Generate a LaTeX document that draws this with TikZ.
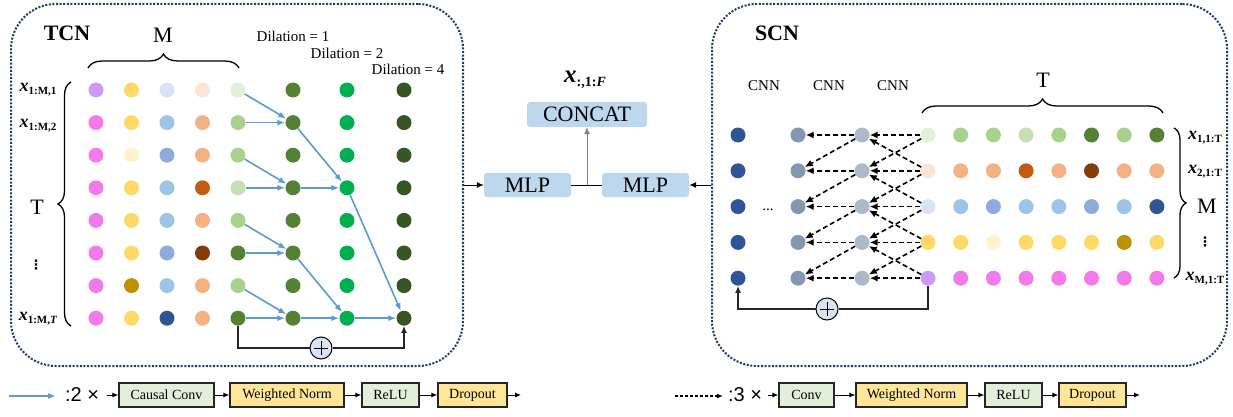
\documentclass[tikz,border=0pt]{standalone}
\usepackage{fontspec}
\setmainfont{Liberation Serif}
\newfontfamily\lsans{Liberation Sans}
\newfontfamily\djv{DejaVu Sans}
\usetikzlibrary{arrows.meta,decorations.pathreplacing}
\definecolor{cPur}{HTML}{CC99FF}
\definecolor{cPink}{HTML}{F27AEA}
\definecolor{cYel}{HTML}{FFD966}
\definecolor{cYelL}{HTML}{FFF2CC}
\definecolor{cYelD}{HTML}{BF9000}
\definecolor{cBluL}{HTML}{DAE3F3}
\definecolor{cBlu}{HTML}{9DC3E6}
\definecolor{cBluM}{HTML}{8FAADC}
\definecolor{cBluD}{HTML}{2F5597}
\definecolor{cOrL}{HTML}{FBE5D6}
\definecolor{cOr}{HTML}{F4B183}
\definecolor{cOrD}{HTML}{C55A11}
\definecolor{cBrn}{HTML}{843C0C}
\definecolor{cGrL}{HTML}{E2F0D9}
\definecolor{cGrLL}{HTML}{C5E0B4}
\definecolor{cGr}{HTML}{A9D18E}
\definecolor{cGrD}{HTML}{548235}
\definecolor{cGrB}{HTML}{00B050}
\definecolor{cGrDD}{HTML}{375623}
\definecolor{cS1}{HTML}{8497B0}
\definecolor{cS2}{HTML}{ADB9CA}
\definecolor{cMLP}{HTML}{BDD7EE}
\definecolor{cArrow}{HTML}{5B9BD5}
\definecolor{cBorder}{HTML}{203864}
\definecolor{cBoxY}{HTML}{FFE699}
\newcommand{\fsz}[1]{\fontsize{#1}{#1}\selectfont}
\newcommand{\xlab}[1]{{\fsz{18}\textbf{\textit{x}}}{\fsz{11}\raisebox{-3pt}{\textbf{#1}}}}
\begin{document}
\begin{tikzpicture}[x=1pt,y=-1pt,
  dot/.style={circle,inner sep=0,minimum size=15,draw=none},
  panel/.style={draw=cBorder,line width=2,dash pattern=on 2pt off 1.6pt,rounded corners=45,inner sep=0},
  blu/.style={draw=cArrow,color=cArrow,line width=1.6,-{Latex[length=8,width=6]}},
  dsh/.style={draw=black,line width=1.6,dash pattern=on 5pt off 3pt,-{Latex[length=8,width=7]}},
  res/.style={draw=black!85,line width=1.5},
  plus/.style={circle,draw=black,line width=1,fill=cBluL,minimum size=22,inner sep=0,
    path picture={\draw[line width=1] ([xshift=-7pt]path picture bounding box.center) -- ([xshift=7pt]path picture bounding box.center);
                  \draw[line width=1] ([yshift=-7pt]path picture bounding box.center) -- ([yshift=7pt]path picture bounding box.center);}},
  brc/.style={decorate,decoration={brace,amplitude=14pt},line width=1.3},
  mlp/.style={fill=cMLP,rounded corners=3,inner sep=0,font=\fsz{22}},
  lbox/.style={draw=black!85,line width=1.2,minimum height=24,inner sep=0,font=\fsz{14}},
  sarr/.style={line width=1,-{Latex[length=6,width=5]}},
  carr/.style={line width=1,-{Latex[length=7,width=6]}},
  vd/.style={font=\djv\bfseries\fsz{13},inner sep=0}]
\useasboundingbox (0,0) rectangle (1233,417);
% panels
\node[panel,minimum width=452,minimum height=362] (tcn) at (237,185) {};
\node[panel,minimum width=515,minimum height=362] (scn) at (969.5,185) {};
% ---------- TCN ----------
\node[font=\fsz{22}\bfseries] (tcnT) at (67,33) {TCN};
\node[font=\fsz{22}] (mT) at (163,35) {M};
\node[font=\fsz{22}] (tT) at (37,207) {T};
\draw[brc] (88,68) -- (239,68);
\draw[brc,decoration={brace,amplitude=13pt}] (71,326) -- (71,82);
\node[font=\fsz{15}] (d1) at (293,36) {Dilation = 1};
\node[font=\fsz{15}] (d2) at (347,53) {Dilation = 2};
\node[font=\fsz{15}] (d4) at (408,69) {Dilation = 4};
\node (l1) at (38,90) {\xlab{1:M,1}};
\node (l2) at (38,126) {\xlab{1:M,2}};
\node[vd] (l3) at (36,265) {⋮};
\node (l4) at (38,319) {\xlab{1:M,\textit{T}}};
\foreach \cl [count=\c from 0] in {cPur,cYel,cBluL,cOrL,cGrL} \node[dot,fill=\cl] (t-\c-0) at ({96+35.5*\c},{90+32.6*0}) {};
\foreach \cl [count=\c from 0] in {cPink,cYel,cBlu,cOr,cGr} \node[dot,fill=\cl] (t-\c-1) at ({96+35.5*\c},{90+32.6*1}) {};
\foreach \cl [count=\c from 0] in {cPink,cYelL,cBluM,cOr,cGr} \node[dot,fill=\cl] (t-\c-2) at ({96+35.5*\c},{90+32.6*2}) {};
\foreach \cl [count=\c from 0] in {cPink,cYel,cBlu,cOrD,cGrLL} \node[dot,fill=\cl] (t-\c-3) at ({96+35.5*\c},{90+32.6*3}) {};
\foreach \cl [count=\c from 0] in {cPink,cYel,cBlu,cOr,cGr} \node[dot,fill=\cl] (t-\c-4) at ({96+35.5*\c},{90+32.6*4}) {};
\foreach \cl [count=\c from 0] in {cPink,cYel,cBluM,cBrn,cGrD} \node[dot,fill=\cl] (t-\c-5) at ({96+35.5*\c},{90+32.6*5}) {};
\foreach \cl [count=\c from 0] in {cPink,cYelD,cBlu,cOr,cGr} \node[dot,fill=\cl] (t-\c-6) at ({96+35.5*\c},{90+32.6*6}) {};
\foreach \cl [count=\c from 0] in {cPink,cYel,cBluD,cOr,cGrD} \node[dot,fill=\cl] (t-\c-7) at ({96+35.5*\c},{90+32.6*7}) {};
\foreach \r in {0,...,7} {
  \node[dot,fill=cGrD] (t-5-\r) at (293,{90+32.6*\r}) {};
  \node[dot,fill=cGrB] (t-6-\r) at (347,{90+32.6*\r}) {};
  \node[dot,fill=cGrDD] (t-7-\r) at (404,{90+32.6*\r}) {};
}
\foreach \p/\k in {0/1,2/3,4/5,6/7} {\draw[blu] (t-4-\p) -- (t-5-\k); \draw[blu] (t-4-\k) -- (t-5-\k);}
\foreach \p/\k in {1/3,5/7} {\draw[blu] (t-5-\p) -- (t-6-\k); \draw[blu] (t-5-\k) -- (t-6-\k);}
\draw[blu] (t-6-3) -- (t-7-7);
\draw[blu] (t-6-7) -- (t-7-7);
\node[plus] (pT) at (321,348) {};
\draw[res] (t-4-7) |- (pT);
\draw[res,-{Latex[length=7,width=6]}] (pT) -| (t-7-7);
% ---------- SCN ----------
\node[font=\fsz{22}\bfseries] (scnT) at (777,33) {SCN};
\node[font=\fsz{15}] (cnn1) at (764,86) {CNN};
\node[font=\fsz{15}] (cnn2) at (829,86) {CNN};
\node[font=\fsz{15}] (cnn3) at (893,86) {CNN};
\node[font=\fsz{22}] (sT) at (1043,80) {T};
\draw[brc] (922,113) -- (1163,113);
\node[font=\fsz{22}] (sM) at (1207,206) {M};
\draw[brc,decoration={brace,amplitude=12pt}] (1174,128) -- (1174,278);
\node (k1) at (1205,138) {\xlab{1,1:T}};
\node (k2) at (1205,172) {\xlab{2,1:T}};
\node[vd] (k3) at (1205,242) {⋮};
\node (k4) at (1205,279) {\xlab{M,1:T}};
\node[font=\fsz{15}] (sdots) at (768,210) {...};
\foreach \r in {0,...,4} {
  \node[dot,fill=cBluD] (s-0-\r) at (738,{135+35.8*\r}) {};
  \node[dot,fill=cS1] (s-1-\r) at (798,{135+35.8*\r}) {};
  \node[dot,fill=cS2] (s-2-\r) at (862,{135+35.8*\r}) {};
}
\foreach \cl [count=\c from 3] in {cGrL,cGr,cGr,cGrLL,cGr,cGrD,cGr,cGrD} \node[dot,fill=\cl] (s-\c-0) at ({928+32.7*(\c-3)},{135+35.8*0}) {};
\foreach \cl [count=\c from 3] in {cOrL,cOr,cOr,cOrD,cOr,cBrn,cOr,cOr} \node[dot,fill=\cl] (s-\c-1) at ({928+32.7*(\c-3)},{135+35.8*1}) {};
\foreach \cl [count=\c from 3] in {cBluL,cBlu,cBluM,cBlu,cBlu,cBluM,cBlu,cBluD} \node[dot,fill=\cl] (s-\c-2) at ({928+32.7*(\c-3)},{135+35.8*2}) {};
\foreach \cl [count=\c from 3] in {cYel,cYel,cYelL,cYel,cYel,cYel,cYelD,cYel} \node[dot,fill=\cl] (s-\c-3) at ({928+32.7*(\c-3)},{135+35.8*3}) {};
\foreach \cl [count=\c from 3] in {cPur,cPink,cPink,cPink,cPink,cPink,cPink,cPink} \node[dot,fill=\cl] (s-\c-4) at ({928+32.7*(\c-3)},{135+35.8*4}) {};
\foreach \r in {0,...,4} \draw[dsh] (s-3-\r) -- (s-2-\r);
\foreach \a/\b in {0/1,1/2,2/3,3/4} {\draw[dsh] (s-3-\a) -- (s-2-\b); \draw[dsh] (s-3-\b) -- (s-2-\a);}
\foreach \r in {0,...,4} \draw[dsh] (s-2-\r) -- (s-1-\r);
\foreach \a/\b in {0/1,1/2,2/3,3/4} \draw[dsh] (s-2-\a) -- (s-1-\b);
\node[plus] (pS) at (827,309) {};
\draw[res] (s-3-4) |- (pS);
\draw[res,-{Latex[length=7,width=6]}] (pS) -| (s-0-4);
% ---------- centre ----------
\node[mlp,minimum width=87,minimum height=24] (mlpL) at (527.5,185) {MLP};
\node[mlp,minimum width=87,minimum height=24] (mlpR) at (645.5,185) {MLP};
\node[mlp,minimum width=120,minimum height=25] (cc) at (587,114.5) {CONCAT};
\node (xF) at (585,80) {{\fsz{25}\textbf{\textit{x}}}{\fsz{14}\raisebox{-4pt}{\textbf{:,1:\textit{F}}}}};
\draw[carr] (tcn.east) -- (mlpL);
\draw[carr] (scn.west) -- (mlpR);
\draw[line width=1] (mlpL) -- (mlpR);
\draw[carr,color=gray] (cc.south |- mlpL.east) -- (cc);
% ---------- legends ----------
\coordinate (ba1) at (9,396);
\coordinate (ba2) at (56,396);
\draw[blu] (ba1) -- (ba2);
\node[font=\lsans\fsz{20}] (m2) at (82,395) {:2 ×};
\coordinate (c0) at (107,395);
\node[lbox,fill=cGrL,minimum width=95] (cc1) at (166.5,395) {Causal Conv};
\node[lbox,fill=cBoxY,minimum width=114] (wn1) at (287,395) {Weighted Norm};
\node[lbox,fill=cGrL,minimum width=57] (re1) at (390.5,395) {ReLU};
\node[lbox,fill=cBoxY,minimum width=69] (dr1) at (472.5,395) {Dropout};
\coordinate (e1) at (521,395);
\draw[sarr] (c0) -- (cc1);
\draw[sarr] (cc1) -- (wn1);
\draw[sarr] (wn1) -- (re1);
\draw[sarr] (re1) -- (dr1);
\draw[sarr] (dr1) -- (e1);
\coordinate (da1) at (675,396);
\coordinate (da2) at (723,396);
\draw[dsh,line width=1.3,dash pattern=on 3pt off 2pt,-{Latex[length=6,width=5]}] (da1) -- (da2);
\node[font=\lsans\fsz{20}] (m3) at (745,395) {:3 ×};
\coordinate (c1) at (768,395);
\node[lbox,fill=cGrL,minimum width=55] (cv2) at (806.5,395) {Conv};
\node[lbox,fill=cBoxY,minimum width=111] (wn2) at (911.5,395) {Weighted Norm};
\node[lbox,fill=cGrL,minimum width=57] (re2) at (1013.5,395) {ReLU};
\node[lbox,fill=cBoxY,minimum width=67] (dr2) at (1092.5,395) {Dropout};
\coordinate (e2) at (1140,395);
\draw[sarr] (c1) -- (cv2);
\draw[sarr] (cv2) -- (wn2);
\draw[sarr] (wn2) -- (re2);
\draw[sarr] (re2) -- (dr2);
\draw[sarr] (dr2) -- (e2);
\end{tikzpicture}
\end{document}
